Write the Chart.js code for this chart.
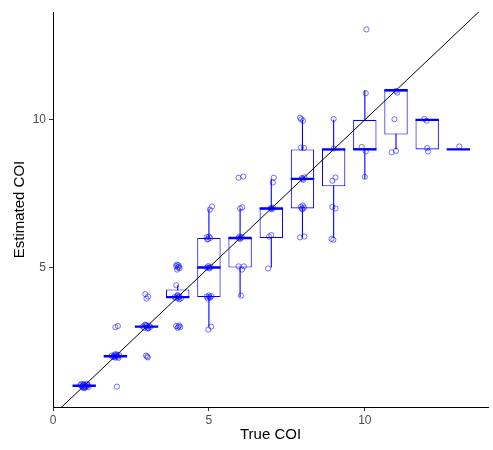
<!DOCTYPE html>
<html>
<head>
<meta charset="utf-8">
<script src="https://cdn.jsdelivr.net/npm/chart.js@4.4.1/dist/chart.umd.min.js"></script>
<style>
  body { margin: 0; background: #fff; }
  canvas { display: block; }
</style>
</head>
<body>
<canvas id="coiChart" width="493" height="450"></canvas>
<script>
// --- DATA ---
const trueCOI  = [1, 2, 3, 4,    5, 6, 7, 8, 9,    10, 11,  12, 13];
const boxQ1    = [1, 2, 3, 4,    4, 5, 6, 7, 7.75, 9,  9.5, 9,  9];
const boxMed   = [1, 2, 3, 4,    5, 6, 7, 8, 9,    9,  11,  10, 9];
const boxQ3    = [1, 2, 3, 4.26, 6, 6, 7, 9, 9,    10, 11,  10, 9];
const whiskLo  = [1, 2, 3, 4,    3, 4, 5, 6, 6,    8,  9,   9,  9];
const whiskHi  = [1, 2, 3, 4.4,  7, 7, 8, 10, 10,  11, 11,  10, 9];

// jittered estimates: [true COI (jittered), estimated COI]
const jitterPoints = [
  [0.88,1.02],[0.93,0.97],[0.97,1.05],[1.0,0.95],[1.03,1.01],[1.06,0.98],[1.1,1.04],[1.14,0.96],[0.95,1.0],[1.08,1.07],[1.01,0.92],[0.91,1.06],
  [0.99,1.03],[1.04,0.94],[0.96,0.93],[1.12,1.01],
  [1.88,2.02],[1.93,1.97],[1.97,2.05],[2.0,1.95],[2.04,2.01],[2.08,1.98],[2.12,2.04],[1.95,2.0],[2.02,2.07],[2.1,1.94],[1.99,1.99],[2.06,2.04],
  [2.05,0.97],[2.0,2.98],[2.08,3.02],
  [2.88,3.0],[2.93,2.96],[2.97,3.05],[3.0,3.01],[3.04,2.97],[3.08,3.03],[3.12,2.99],[2.95,3.07],[3.03,2.93],[3.01,3.04],[3.06,2.95],
  [2.96,4.1],[3.0,3.95],[3.05,4.02],[2.98,2.02],[3.04,1.96],[3.02,1.99],
  [3.9,4.0],[3.95,3.96],[3.98,4.04],[4.02,3.98],[4.06,4.02],[4.1,3.95],[4.0,4.07],[4.05,3.93],[4.03,4.01],[3.95,4.4],
  [3.95,5.05],[3.98,4.93],[4.02,5.08],[4.06,4.98],[4.0,5.0],[3.97,5.1],[4.04,5.03],
  [3.95,3.02],[4.0,2.96],[4.05,3.04],[4.08,2.98],[4.02,3.0],
  [4.93,6.03],[4.97,5.97],[5.0,6.05],[5.04,6.0],[4.95,5.95],[4.94,5.0],[4.98,5.05],[5.02,4.97],[5.06,5.02],[5.0,5.0],
  [4.93,4.02],[4.97,3.95],[5.0,4.05],[5.04,3.98],[5.08,4.03],[5.01,4.0],[5.03,6.96],[5.1,7.07],[4.98,2.9],[5.07,3.0],
  [5.95,8.04],[6.1,8.08],[6.0,7.0],[6.07,7.04],[5.95,6.0],[6.0,5.97],[6.05,6.03],[5.98,6.05],[6.02,6.0],
  [5.95,5.04],[6.06,4.93],[6.12,5.04],[6.03,4.05],
  [7.05,7.88],[7.08,8.04],[6.98,7.0],[7.02,6.97],[7.05,7.03],[7.0,7.01],[6.93,6.05],[7.0,6.1],[6.9,4.97],
  [7.92,10.07],[8.02,9.97],[7.96,10.02],[7.95,9.06],[8.05,9.05],[7.98,8.03],[8.03,7.97],[8.06,8.05],[8.0,8.0],
  [7.95,7.06],[8.0,6.97],[8.05,7.03],[8.01,7.1],[7.98,7.0],[7.92,6.02],[8.06,6.05],
  [9.0,10.03],[9.0,9.03],[8.96,7.94],[9.06,8.05],[8.96,7.05],[9.06,7.0],[8.93,5.97],[8.99,5.94],
  [10.05,13.06],[10.03,10.9],[9.9,9.08],[10.03,8.93],[10.0,8.07],
  [11.04,10.92],[11.0,10.98],[10.95,10.02],[10.86,8.9],[11.0,8.95],
  [11.91,10.03],[11.98,9.97],[12.0,9.04],[12.03,8.93],
  [13.03,9.1]
];

const xTicks = [0, 5, 10];
const yTicks = [5, 10];
const boxHalf = 0.375;

// --- SEGMENTS BUILT FROM THE BOX STATS ---
const whiskerData = [];
const medianData = [];
trueCOI.forEach((t, i) => {
  whiskerData.push({x: t, y: whiskLo[i]}, {x: t, y: whiskHi[i]}, {x: t, y: null});
  medianData.push({x: t - boxHalf, y: boxMed[i]}, {x: t + boxHalf, y: boxMed[i]}, {x: t, y: null});
});

const tickFont = { family: '"Liberation Sans", Arial, sans-serif', size: 12 };
const titleFont = { family: '"Liberation Sans", Arial, sans-serif', size: 15 };

new Chart(document.getElementById('coiChart'), {
  type: 'scatter',
  data: {
    datasets: [
      { data: jitterPoints.map(p => ({x: p[0], y: p[1]})), pointRadius: 2.6, borderWidth: 1,
        pointBorderColor: 'rgba(0,0,255,0.55)', pointBackgroundColor: 'rgba(0,0,0,0)', order: 1 },
      { data: [{x: 0, y: 0}, {x: 14, y: 14}], showLine: true, borderColor: '#000', borderWidth: 1,
        pointRadius: 0, order: 2 },
      { data: medianData, showLine: true, spanGaps: false, borderColor: '#0000ff', borderWidth: 2.4,
        pointRadius: 0, order: 3 },
      { type: 'bar', data: trueCOI.map((t, i) => ({x: t, y: [boxQ1[i], boxQ3[i]]})),
        backgroundColor: '#fff', borderColor: '#0000ff', borderWidth: 1.1, borderSkipped: false,
        barPercentage: 0.75, categoryPercentage: 1, order: 4 },
      { data: whiskerData, showLine: true, spanGaps: false, borderColor: '#0000ff', borderWidth: 1.1,
        pointRadius: 0, order: 5 }
    ]
  },
  options: {
    responsive: false,
    animation: false,
    layout: { padding: { top: 12, right: 5, left: 0, bottom: 0 } },
    plugins: { legend: { display: false }, tooltip: { enabled: false } },
    scales: {
      x: {
        type: 'linear', min: 0, max: 13.95, offset: false,
        afterBuildTicks: s => { s.ticks = xTicks.map(v => ({value: v})); },
        afterFit: s => { s.height = 43; },
        ticks: { font: tickFont, color: '#4d4d4d', padding: 2 },
        grid: { offset: false, drawOnChartArea: false, drawTicks: true, tickLength: 4, color: '#333' },
        border: { display: true, color: '#000', width: 1 },
        title: { display: true, text: 'True COI', font: titleFont, color: '#000', padding: { top: 0, bottom: 6 } }
      },
      y: {
        type: 'linear', min: 0.28, max: 13.65,
        afterBuildTicks: s => { s.ticks = yTicks.map(v => ({value: v})); },
        afterFit: s => { s.width = 53; },
        ticks: { font: tickFont, color: '#4d4d4d', padding: 3 },
        grid: { offset: false, drawOnChartArea: false, drawTicks: true, tickLength: 4, color: '#333' },
        border: { display: true, color: '#000', width: 1 },
        title: { display: true, text: 'Estimated COI', font: titleFont, color: '#000', padding: { top: 11 } }
      }
    }
  }
});
</script>
</body>
</html>
